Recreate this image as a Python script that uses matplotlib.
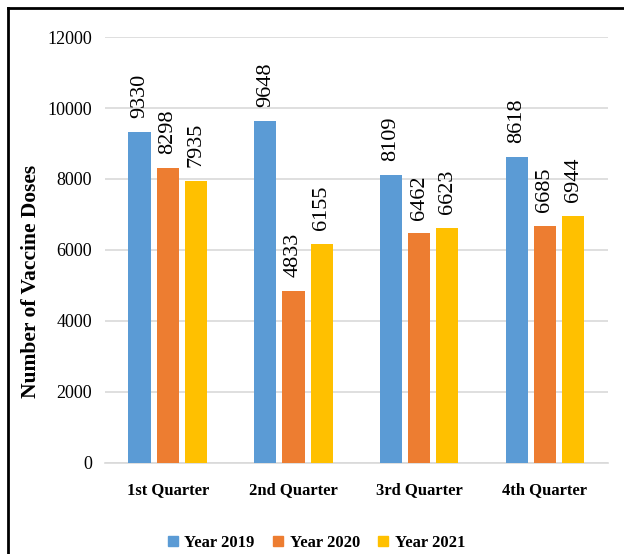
import numpy as np
import matplotlib.pyplot as plt
from matplotlib.lines import Line2D

quarters = ['1st Quarter', '2nd Quarter', '3rd Quarter', '4th Quarter']
years = ['Year 2019', 'Year 2020', 'Year 2021']
doses_2019 = [9330, 9648, 8109, 8618]
doses_2020 = [8298, 4833, 6462, 6685]
doses_2021 = [7935, 6155, 6623, 6944]
colors = ['#5b9bd5', '#ed7d31', '#ffc000']

plt.rcParams['font.family'] = ['Liberation Serif', 'DejaVu Serif']

fig = plt.figure(figsize=(6.24, 5.54), dpi=100)
ax = fig.add_axes([0.168, 0.165, 0.806, 0.768])

x = np.arange(len(quarters))
w = 0.176
step = 0.224
for i, (vals, c, lab) in enumerate(zip([doses_2019, doses_2020, doses_2021], colors, years)):
    pos = x + (i - 1) * step
    bars = ax.bar(pos, vals, width=w, color=c, label=lab, zorder=3)
    for b, v in zip(bars, vals):
        ax.annotate(str(v), (b.get_x() + b.get_width() / 2, v), xytext=(0, 10),
                    textcoords='offset points', rotation=90, ha='center', va='bottom',
                    fontsize=16)

ax.set_xlim(-0.5, 3.5)
ax.set_ylim(0, 12000)
ax.set_yticks(np.arange(0, 12001, 2000))
ax.tick_params(axis='y', length=0, labelsize=13, pad=9)
ax.tick_params(axis='x', length=0, labelsize=12, pad=14)
ax.set_xticks(x)
ax.set_xticklabels(quarters, fontweight='bold')
ax.grid(axis='y', color='#d9d9d9', linewidth=1.2, zorder=0)
for s in ['top', 'right', 'left']:
    ax.spines[s].set_visible(False)
ax.spines['bottom'].set_color('#d9d9d9')
ax.spines['bottom'].set_linewidth(1.2)
ax.set_ylabel('Number of Vaccine Doses', fontsize=15.5, fontweight='bold')
ax.yaxis.set_label_coords(-0.127, 0.425)

handles = [Line2D([], [], marker='s', linestyle='none', color=c, markersize=7) for c in colors]
fig.legend(handles, years, loc='center', bbox_to_anchor=(0.506, 0.02), ncol=3, frameon=False,
           prop={'size': 12, 'weight': 'bold'}, handlelength=0.8, handletextpad=0.3,
           columnspacing=1.0)

# border of the original screenshot (left and top only)
fig.add_artist(Line2D([0.013, 0.013], [0, 0.986], color='black', linewidth=2, transform=fig.transFigure))
fig.add_artist(Line2D([0.013, 1.0], [0.986, 0.986], color='black', linewidth=2, transform=fig.transFigure))

fig.savefig('out.png', dpi=100)
